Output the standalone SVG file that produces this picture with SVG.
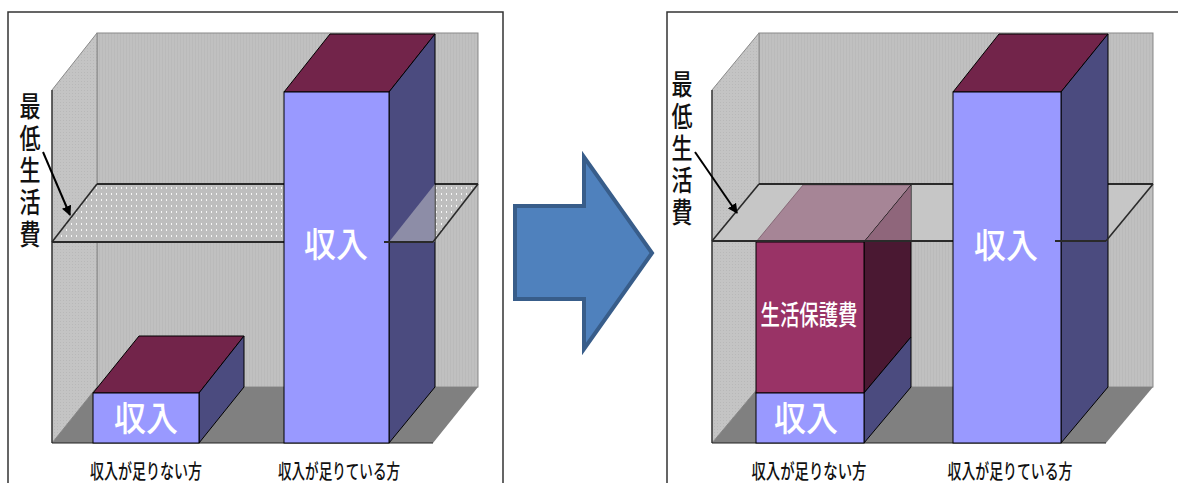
<svg xmlns="http://www.w3.org/2000/svg" width="1178" height="483" viewBox="0 0 1178 483">
<style>
.frame{fill:none;stroke:#333;stroke-width:1.5}
.wall{fill:url(#tex);stroke:#8a8a8a;stroke-width:1}
.side{fill:url(#tex2);stroke:#8a8a8a;stroke-width:1}
.floor{fill:#808080}
.edge{stroke:#222;stroke-width:1.2;fill:none}
.pedge{stroke:#2a2a2a;stroke-width:2.2;fill:none}
.pslant{stroke:#2a2a2a;stroke-width:1.6;fill:none}
.front{fill:#9999FF;stroke:#000;stroke-width:1}
.top{fill:#72244A;stroke:#000;stroke-width:1}
.bside{fill:#4B4B7F;stroke:#000;stroke-width:1}
.wt{font-family:"Noto Sans CJK JP","Noto Sans",sans-serif;font-weight:500;fill:#fff;text-anchor:middle}
.lbl{font-family:"Noto Sans CJK JP","Noto Sans",sans-serif;font-weight:500;fill:#111;text-anchor:middle}
.vl{font-family:"Noto Sans CJK JP","Noto Sans",sans-serif;font-weight:500;fill:#111;writing-mode:vertical-rl;letter-spacing:4px}
.conn{stroke:#000;stroke-width:2;fill:none}
</style>
<defs>
<pattern id="tex" width="3" height="3" patternUnits="userSpaceOnUse">
<rect width="3" height="3" fill="#C0C0C0"/><rect width="1" height="3" fill="#BABABA"/>
</pattern>
<pattern id="tex2" width="3" height="3" patternUnits="userSpaceOnUse">
<rect width="3" height="3" fill="#C4C4C4"/><rect width="1" height="1" fill="#B8B8B8"/>
</pattern>
<pattern id="dots" width="5" height="6" patternUnits="userSpaceOnUse">
<rect width="5" height="6" fill="#BEBEBE"/><rect x="1" y="1" width="1" height="2" fill="#F6F6F6"/>
</pattern>
<marker id="ah" viewBox="0 0 10 10" refX="9" refY="5" markerWidth="5" markerHeight="5" orient="auto">
<path d="M0,0 L10,5 L0,10 z" fill="#000"/>
</marker>
</defs>
<rect width="1178" height="483" fill="#fff"/>

<!-- Left panel -->
<g id="left-panel">
<path class="frame" d="M8,483 V12 H503 V483"/>
<rect class="wall" x="97" y="33" width="381" height="354"/>
<polygon class="side" points="52,90 97,33 97,387 52,443"/>
<polygon class="floor" points="52,443 97,387 478,387 433,443"/>
<line class="edge" x1="52" y1="90" x2="52" y2="443"/>
<line class="edge" x1="52" y1="443" x2="433" y2="443"/>
</g>
<g id="left-plane">
<polygon points="52,242 97,184 478,184 433,242" fill="url(#dots)"/>
<line class="pedge" x1="52" y1="242" x2="290" y2="242"/>
<line class="pedge" x1="97" y1="184" x2="478" y2="184"/>
<line class="pslant" x1="52" y1="242" x2="97" y2="184"/>
</g>
<g id="left-bar-short">
<polygon class="top" points="93,393 139,336 244,336 199,393"/>
<polygon class="bside" points="199,393 244,336 244,387 199,443"/>
<rect class="front" x="93" y="393" width="106" height="50"/>
<text class="wt" x="146" y="431" font-size="34" textLength="64" lengthAdjust="spacingAndGlyphs">収入</text>
</g>
<g id="left-bar-tall">
<polygon class="top" points="284,92 330,34 435,34 389,92"/>
<polygon class="bside" points="389,92 435,34 435,387 389,443"/>
<rect class="front" x="284" y="92" width="105" height="351"/>
<polygon points="389,242 435,184 435,242" fill="#D0D0D0" opacity="0.5"/>
<line class="pedge" x1="384" y1="242" x2="433" y2="242"/>
<line class="pslant" x1="433" y1="242" x2="478" y2="184"/>
<text class="wt" x="336" y="257" font-size="34" textLength="64" lengthAdjust="spacingAndGlyphs">収入</text>
</g>
<g id="left-label">
<text class="vl" font-size="28" transform="translate(30,92) scale(0.75,1)" x="0" y="0">最低生活費</text>
</g>
<g id="left-axis-labels">
<text class="lbl" x="146" y="479" font-size="20" textLength="112" lengthAdjust="spacingAndGlyphs">収入が足りない方</text>
<text class="lbl" x="339" y="479" font-size="20" textLength="122" lengthAdjust="spacingAndGlyphs">収入が足りている方</text>
</g>

<!-- Big arrow -->
<g id="transition-arrow">
<polygon points="515,206 584,206 584,157 652,253 584,349 584,299 515,299" fill="#4F81BD" stroke="#385D8A" stroke-width="4"/>
</g>

<!-- Right panel -->
<g id="right-panel">
<path class="frame" d="M667,483 V12 H1178"/>
<rect class="wall" x="759" y="33" width="394" height="354"/>
<polygon class="side" points="712,90 759,33 759,387 712,443"/>
<polygon class="floor" points="712,443 759,387 1153,387 1106,443"/>
<line class="edge" x1="712" y1="90" x2="712" y2="443"/>
<line class="edge" x1="712" y1="443" x2="1106" y2="443"/>
</g>
<g id="right-plane">
<polygon points="712,241 759,184 1153,184 1106,241" fill="#C6C6C6"/>
<line class="pslant" x1="712" y1="241" x2="759" y2="184"/>
</g>
<g id="right-bar-short">
<polygon points="756,242 803,185 911,185 864,242" fill="#A68596" stroke="#7a5a6a" stroke-width="0.8"/>
<polygon points="864,242 911,185 911,337 864,393" fill="#4A1832" stroke="#000" stroke-width="1"/>
<polygon points="864,242 911,185 911,242" fill="#C8A8B8" opacity="0.55"/>
<rect x="756" y="242" width="108" height="151" fill="#993366" stroke="#000" stroke-width="1"/>
<polygon class="bside" points="864,393 911,337 911,387 864,443"/>
<rect class="front" x="756" y="393" width="108" height="50"/>
<text class="wt" x="809" y="325" font-size="27" textLength="97" lengthAdjust="spacingAndGlyphs">生活保護費</text>
<text class="wt" x="806" y="431" font-size="34" textLength="64" lengthAdjust="spacingAndGlyphs">収入</text>
</g>
<g id="right-plane-edges">
<line class="pedge" x1="712" y1="241" x2="958" y2="241"/>
<line class="pedge" x1="759" y1="184" x2="1153" y2="184"/>
</g>
<g id="right-bar-tall">
<polygon class="top" points="953,92 999,34 1108,34 1061,92"/>
<polygon class="bside" points="1061,92 1108,34 1108,387 1061,443"/>
<rect class="front" x="953" y="92" width="108" height="351"/>
<line class="pedge" x1="1055" y1="241" x2="1106" y2="241"/>
<line class="pslant" x1="1106" y1="241" x2="1153" y2="184"/>
<text class="wt" x="1006" y="258" font-size="34" textLength="64" lengthAdjust="spacingAndGlyphs">収入</text>
</g>
<g id="right-label">
<text class="vl" font-size="28" transform="translate(682,70) scale(0.75,1)" x="0" y="0">最低生活費</text>
</g>
<g id="right-axis-labels">
<text class="lbl" x="809" y="479" font-size="20" textLength="115" lengthAdjust="spacingAndGlyphs">収入が足りない方</text>
<text class="lbl" x="1010" y="479" font-size="20" textLength="125" lengthAdjust="spacingAndGlyphs">収入が足りている方</text>
</g>

<g id="connectors">
<line class="conn" x1="43" y1="152" x2="70" y2="215" marker-end="url(#ah)"/>
<line class="conn" x1="695" y1="152" x2="737" y2="213" marker-end="url(#ah)"/>
</g>
</svg>
